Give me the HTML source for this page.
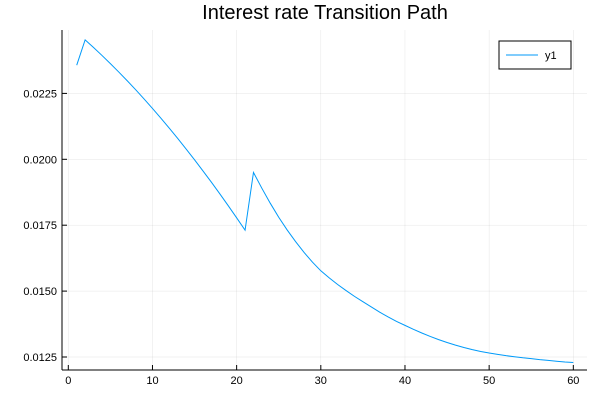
<!DOCTYPE html>
<html><head><meta charset="utf-8"><style>
body{margin:0;background:#fff;font-family:"Liberation Sans",sans-serif}
svg text{font-family:"Liberation Sans",sans-serif}
</style></head><body>
<svg id="chart" width="600" height="400" viewBox="0 0 600 400">
<rect width="600" height="400" fill="#fff"/>
<text x="325" y="19" font-size="20" text-anchor="middle" fill="#000">Interest rate Transition Path</text>
<g id="grid"></g>
<g id="axes"></g>
<g id="series"></g>
<g>
<rect x="499" y="41" width="72" height="28" fill="#fff" stroke="#000" stroke-width="1"/>
<line x1="506" y1="55" x2="538" y2="55" stroke="#009af9" stroke-width="1"/>
<text x="545" y="59" font-size="11" fill="#000">y1</text>
</g>
</svg>
<script>
const xValues = [];
for (let i = 1; i <= 60; i++) xValues.push(i);
const rateValues = [0.02357,0.02453,0.02424,0.02394,0.02363,0.02331,0.02298,0.02264,0.02229,0.02193,
0.02156,0.02118,0.02079,0.02039,0.01998,0.01956,0.01913,0.01869,0.01824,0.01778,
0.01731,0.01950,0.01890,0.01833,0.01780,0.01732,0.01688,0.01647,0.01610,0.01577,
0.01550,0.01525,0.01502,0.01480,0.01460,0.01440,0.01420,0.01402,0.01385,0.01370,
0.01355,0.01341,0.01328,0.01316,0.01305,0.01295,0.01286,0.01278,0.01271,0.01265,
0.01260,0.01255,0.01251,0.01247,0.01244,0.01240,0.01237,0.01234,0.01231,0.01229];
const xTicks = [0,10,20,30,40,50,60];
const yTicks = [0.0125,0.0150,0.0175,0.0200,0.0225];
const yTickLabels = ["0.0125","0.0150","0.0175","0.0200","0.0225"];

const L=62,R=587,T=30,B=370;
const sx = v => 68.3 + v*8.417;
const sy = v => 159.3 - (v-0.02)/0.0025*65.9;
const NS="http://www.w3.org/2000/svg";
function mk(tag, attrs, parent){const e=document.createElementNS(NS,tag);for(const k in attrs)e.setAttribute(k,attrs[k]);parent.appendChild(e);return e;}
const grid=document.getElementById('grid'),axes=document.getElementById('axes'),series=document.getElementById('series');
xTicks.forEach(t=>{
  const g=mk('line',{x1:sx(t),x2:sx(t),y1:T,y2:B,stroke:'#000','stroke-opacity':0.1,'stroke-width':0.5},grid);
  
  
  const tk=mk('line',{x1:sx(t),x2:sx(t),y1:B,y2:B-5,stroke:'#000','stroke-width':1},axes);
  
  
  const tx=mk('text',{x:sx(t),y:B+14,'font-size':11,'text-anchor':'middle',fill:'#000'},axes);
  tx.textContent=t;
  
  
});
yTicks.forEach((t,i)=>{
  const g=mk('line',{x1:L,x2:R,y1:sy(t),y2:sy(t),stroke:'#000','stroke-opacity':0.1,'stroke-width':0.5},grid);
  
  
  const tk=mk('line',{x1:L,x2:L+5,y1:sy(t),y2:sy(t),stroke:'#000','stroke-width':1},axes);
  
  
  const tx=mk('text',{x:L-5,y:sy(t)+4,'font-size':11,'text-anchor':'end',fill:'#000'},axes);
  tx.textContent=yTickLabels[i];
  
  
});
const xa=mk('line',{x1:L,x2:R,y1:B,y2:B,stroke:'#000','stroke-width':1},axes);


const ya=mk('line',{x1:L,x2:L,y1:T,y2:B,stroke:'#000','stroke-width':1},axes);


const pts=xValues.map((x,i)=>sx(x).toFixed(2)+','+sy(rateValues[i]).toFixed(2)).join(' ');
const pl=mk('polyline',{points:pts,fill:'none',stroke:'#009af9','stroke-width':1},series);


</script>
</body></html>
